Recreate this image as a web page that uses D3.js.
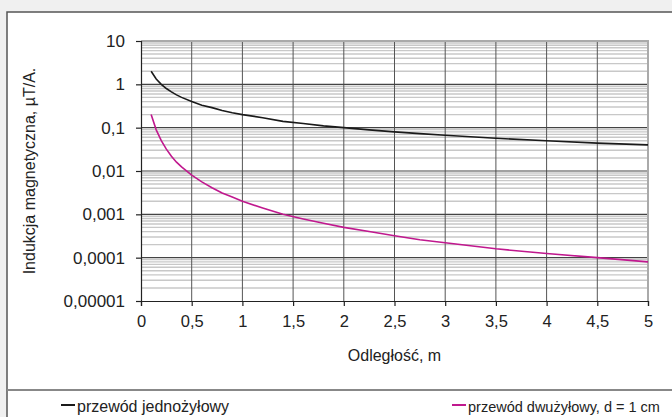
<!DOCTYPE html>
<html><head><meta charset="utf-8">
<script src="https://cdn.jsdelivr.net/npm/d3@7/dist/d3.min.js"></script>
<style>
html,body{margin:0;padding:0;background:#f0f0f0;}
svg{display:block;font-family:"Liberation Sans",Arial,sans-serif;}
</style></head><body>
<svg id="c" width="672" height="417"></svg>
<script>
// Data
const distances = [0.1,0.15,0.2,0.25,0.3,0.35,0.4,0.5,0.6,0.7,0.8,0.9,1.0,1.2,1.4,1.6,1.8,2.0,2.25,2.5,2.75,3.0,3.5,4.0,4.5,5.0];
const singleWire = [2,1.33,1.0,0.8,0.67,0.57,0.5,0.4,0.33,0.29,0.25,0.22,0.2,0.17,0.14,0.125,0.11,0.1,0.089,0.08,0.073,0.067,0.057,0.05,0.044,0.04];
const twoWire = [0.2,0.089,0.05,0.032,0.022,0.016,0.0125,0.008,0.0056,0.0041,0.0031,0.0025,0.002,0.0014,0.001,0.00078,0.00062,0.0005,0.0004,0.00032,0.00026,0.00022,0.00016,0.000125,0.0001,0.00008];
const xTicks = [0,0.5,1,1.5,2,2.5,3,3.5,4,4.5,5];
const yTicks = [10,1,0.1,0.01,0.001,0.0001,0.00001];
const yTickLabels = ["10","1","0,1","0,01","0,001","0,0001","0,00001"];
const seriesNames = ["przewód jednożyłowy","przewód dwużyłowy, d = 1 cm"];
const seriesColors = ["#1a1a1a","#c0188e"];
const xTitle = "Odległość, m";
const yTitle = "Indukcja magnetyczna, µT/A.";

const svg = d3.select("#c");
const L=141, R=648, T=41, B=301;
const x = d3.scaleLinear().domain([0,5]).range([L,R]);
const y = d3.scaleLog().domain([0.00001,10]).range([B,T]);

// outer frame
svg.append("rect").attr("x",7).attr("y",12).attr("width",680).attr("height",420)
  .attr("fill","#fff").attr("stroke","#555").attr("stroke-width",1.5);
svg.append("line").attr("x1",7).attr("x2",672).attr("y1",390).attr("y2",390)
  .attr("stroke","#888").attr("stroke-width",2);

// minor horizontal grid
const minor=[];
for(let e=-5;e<1;e++){for(let m=2;m<10;m++){minor.push(m*Math.pow(10,e));}}
svg.append("g").selectAll("line").data(minor).join("line")
  .attr("x1",L).attr("x2",R).attr("y1",d=>y(d)).attr("y2",d=>y(d))
  .attr("stroke","#c8c8c8").attr("stroke-width",1.4);
// vertical grid
svg.append("g").selectAll("line").data(xTicks.slice(1,-1)).join("line")
  .attr("x1",d=>x(d)).attr("x2",d=>x(d)).attr("y1",T).attr("y2",B)
  .attr("stroke","#555").attr("stroke-width",1);
// major horizontal grid
svg.append("g").selectAll("line").data(yTicks.slice(1,-1)).join("line")
  .attr("x1",L).attr("x2",R).attr("y1",d=>y(d)).attr("y2",d=>y(d))
  .attr("stroke","#444").attr("stroke-width",1.2);
// top/right border
svg.append("path").attr("d",`M${L},${T}H${R}V${B}`).attr("fill","none")
  .attr("stroke","#aaa").attr("stroke-width",2);

// axes
const yAxis = d3.axisLeft(y).tickValues(yTicks).tickFormat((d,i)=>yTickLabels[i]).tickSize(5).tickPadding(11);
const gy = svg.append("g").attr("transform",`translate(${L},0)`).call(yAxis);
const xAxis = d3.axisBottom(x).tickValues(xTicks).tickFormat(d=>String(d).replace(".",",")).tickSize(5).tickPadding(9);
const gx = svg.append("g").attr("transform",`translate(0,${B})`).call(xAxis);
[gx,gy].forEach(g=>{
  g.select(".domain").attr("stroke","#222").attr("stroke-width",1.2);
  g.selectAll(".tick line").attr("stroke","#222").attr("stroke-width",1.2);
  g.selectAll("text").attr("font-family","Liberation Sans, Arial, sans-serif").attr("fill","#222");
});
gy.selectAll("text").attr("font-size",17);
gx.selectAll("text").attr("font-size",16.5);

// lines
const line = d3.line().x((d,i)=>x(distances[i])).y(d=>y(d));
[singleWire,twoWire].forEach((s,k)=>{
  svg.append("path").datum(s).attr("d",line).attr("fill","none")
    .attr("stroke",seriesColors[k]).attr("stroke-width",1.6);
});

// titles
svg.append("text").attr("x",(L+R)/2).attr("y",357).attr("text-anchor","middle")
  .attr("dominant-baseline","middle").attr("font-size",16).attr("fill","#222").text(xTitle);
svg.append("text").attr("transform",`translate(31,${(T+B)/2}) rotate(-90)`).attr("text-anchor","middle")
  .attr("dominant-baseline","middle").attr("font-size",16).attr("fill","#222").text(yTitle);

// legend
const legX=[61,452];
seriesNames.forEach((n,k)=>{
  svg.append("line").attr("x1",legX[k]).attr("x2",legX[k]+14).attr("y1",405).attr("y2",405)
    .attr("stroke",seriesColors[k]).attr("stroke-width",2);
  svg.append("text").attr("x",legX[k]+16).attr("y",408).attr("dominant-baseline","middle")
    .attr("font-size",k===0?16:14.5).attr("fill","#222").text(n);
});
</script></body></html>
